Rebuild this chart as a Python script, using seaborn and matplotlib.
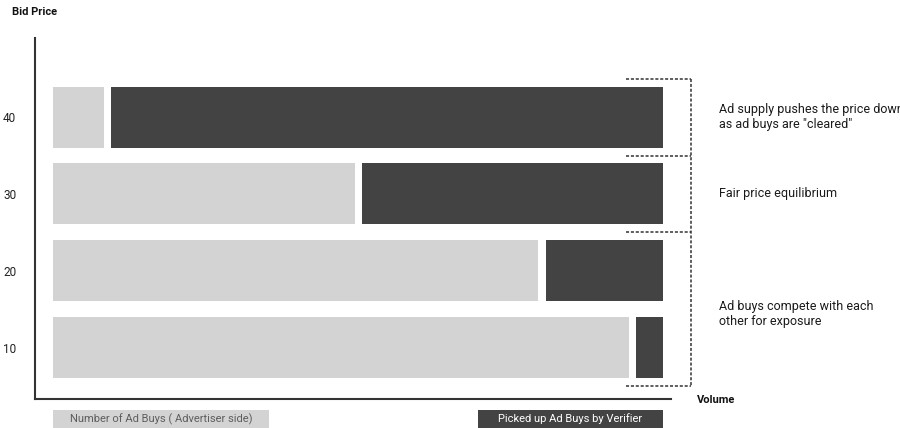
import matplotlib
matplotlib.use("Agg")
import matplotlib.pyplot as plt
import seaborn as sns
import pandas as pd
from matplotlib.patches import Rectangle

# ---- data ----
prices = ["40", "30", "20", "10"]
ad_buys = [8.4, 49.5, 79.5, 94.3]        # light segment (advertiser side)
picked_up = [90.4, 49.3, 19.3, 4.5]      # dark segment (verifier)
gap = 1.15
legend_labels = ["Number of Ad Buys ( Advertiser side)", "Picked up Ad Buys by Verifier"]
notes = ['Ad supply pushes the price down\nas ad buys are "cleared"',
         "Fair price equilibrium",
         "Ad buys compete with each\nother for exposure"]
note_pos = [0, 1, 2.56]
bracket_levels = [-0.5, 0.5, 1.5, 3.5]

sns.set_theme(style="white")
plt.rcParams["font.family"] = ["Roboto", "DejaVu Sans"]

LIGHT = "#d3d3d3"
DARK = "#434343"
INK = "#333333"
W, H = 900, 428

df = pd.DataFrame({"price": prices, "light": ad_buys, "dark": picked_up})
df["cover"] = df["light"] + gap
df["total"] = df["cover"] + df["dark"]

fig = plt.figure(figsize=(W / 100, H / 100), dpi=100)
ax = fig.add_axes([35 / W, 1 - 399 / H, (671 - 35) / W, (399 - 38) / H])

bw = 61 / 77
common = dict(y="price", order=prices, orient="h", width=bw, saturation=1,
              errorbar=None, linewidth=0, ax=ax)
sns.barplot(data=df, x="total", color=DARK, **common)
sns.barplot(data=df, x="cover", color="white", **common)
sns.barplot(data=df, x="light", color=LIGHT, **common)

ax.set_xlim(-2.95, 101.2)
ax.set_ylim(3.67, -1.03)
ax.set_xlabel("")
ax.set_ylabel("")
ax.set_xticks([])
ax.tick_params(axis="y", length=0, pad=13.5, labelsize=8.5, labelcolor="#222222")
for s in ["top", "right"]:
    ax.spines[s].set_visible(False)
for s in ["left", "bottom"]:
    ax.spines[s].set_color(INK)
    ax.spines[s].set_linewidth(1.5)

# brackets
x0, x1 = 93.9, 104.4
for lv in bracket_levels:
    ax.plot([x0, x1], [lv, lv], color=INK, lw=1.1, ls=(0, (2, 1.2)), clip_on=False)
ax.plot([x1, x1], [bracket_levels[0], bracket_levels[-1]], color=INK, lw=1.1,
        ls=(0, (2, 1.2)), clip_on=False)

for txt, p in zip(notes, note_pos):
    ax.text(109.0, p, txt, ha="left", va="center", fontsize=9, color="#1a1a1a",
            linespacing=1.2, clip_on=False)

fig.text(12 / W, 1 - 12 / H, "Bid Price", fontsize=8, fontweight="bold",
         color="#111111", ha="left", va="center")
fig.text(697 / W, 1 - 400 / H, "Volume", fontsize=8, fontweight="bold",
         color="#111111", ha="left", va="center")

# legend boxes
boxes = [(53, 269, LIGHT, "#5e5e5e"), (478, 663, DARK, "white")]
for (bx0, bx1, fc, tc), lab in zip(boxes, legend_labels):
    fig.patches.append(Rectangle((bx0 / W, -0.02), (bx1 - bx0) / W, (428 - 410) / H + 0.02,
                                 transform=fig.transFigure, facecolor=fc, edgecolor="none"))
    fig.text((bx0 + bx1) / 2 / W, 1 - 419 / H, lab, ha="center", va="center",
             fontsize=8, color=tc)

fig.savefig("out.png", dpi=100)
